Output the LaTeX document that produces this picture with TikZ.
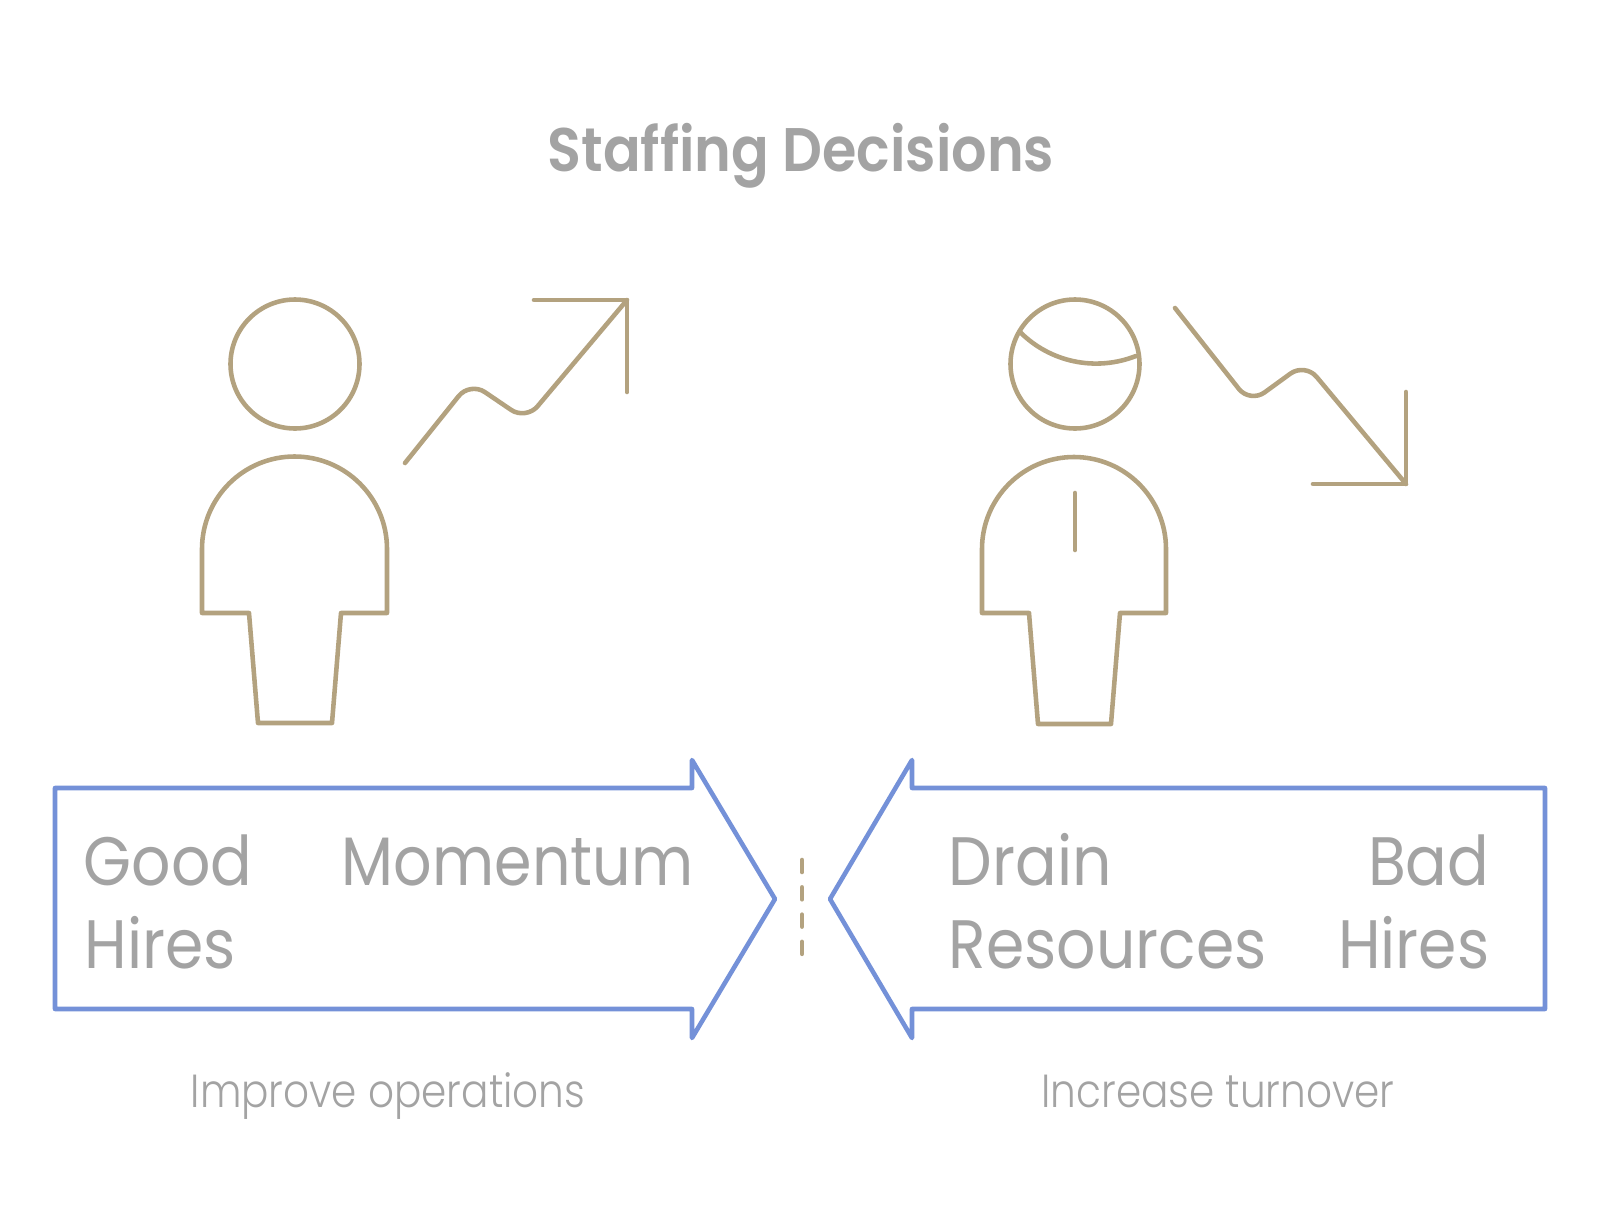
\documentclass[tikz,border=0pt]{standalone}
\usepackage{fontspec}
\setmainfont{Poppins}
\newfontfamily\bodyfont[FakeStretch=0.9]{Poppins}
\newfontfamily\momfont[FakeStretch=0.88]{Poppins}
\newfontfamily\capfont[FakeStretch=0.875]{Poppins Light}
\newfontfamily\titlefont[FakeStretch=0.905]{Poppins SemiBold}
\usetikzlibrary{calc}
\definecolor{tan1}{HTML}{B3A27F}
\definecolor{blue1}{HTML}{7491D8}
\definecolor{gray1}{HTML}{A3A3A3}
\begin{document}
\begin{tikzpicture}[x=0.1mm, y=-0.1mm,
        figure/.style={draw=tan1, line width=1.3pt, line cap=round, line join=round},
        banner/.style={draw=blue1, line width=1.3pt, line cap=round, line join=round},
        bigtext/.style={text=gray1, font=\bodyfont\fontsize{19.5}{24}\selectfont, inner sep=0pt, anchor=base west},
        smalltext/.style={text=gray1, font=\capfont\fontsize{13.2}{16}\selectfont, inner sep=0pt, anchor=base}]
        \useasboundingbox(0,0)rectangle(1600,1231);
        % title
        \node[text=gray1, font=\titlefont\fontsize{17.5}{21}\selectfont, inner sep=0pt, anchor=base](title)at(801,171){Staffing Decisions};
        % 人物1
        \coordinate(h1)at(295,364);
        \path[figure](h1)circle[radius=64.5];
        \path[figure](202,613)--(202,549)arc[start angle=180, end angle=360, radius=92.5]--(387,613)--(341,613)--(332,723)--(258,723)--(249,613)--cycle;
        % up
        \coordinate(u0)at(405,463);
        \coordinate(u1)at(470,382);
        \coordinate(u2)at(526,420);
        \coordinate(u3)at(627,300);
        \path[figure, rounded corners=1.8mm](u0)--(u1)--(u2)--(u3);
        \path[figure](534,300)--(u3)--(627,392);
        % 人物2
        \coordinate(h2)at(1075,364);
        \path[figure](h2)circle[radius=64.5];
        \path[figure](1020,332)..controls(1050,362)and(1095,372)..(1136,356);
        \path[figure](982,613)--(982,549)arc[start angle=180, end angle=360, radius=92]--(1166,613)--(1120,613)--(1111,724)--(1038,724)--(1029,613)--cycle;
        \path[figure](1075,493)--(1075,550);
        % down
        \coordinate(d0)at(1175,308);
        \coordinate(d1)at(1250,403);
        \coordinate(d2)at(1305,363);
        \coordinate(d3)at(1406,484);
        \path[figure, rounded corners=1.8mm](d0)--(d1)--(d2)--(d3);
        \path[figure](1406,392)--(d3)--(1313,484);
        % arrows
        \path[banner](55,788)--(692,788)--(692,760)--(775,899)--(692,1038)--(692,1009)--(55,1009)--cycle;
        \path[banner](1545,788)--(912,788)--(912,760)--(830,899)--(912,1038)--(912,1009)--(1545,1009)--cycle;
        % dashes
        \coordinate(s0)at(802,860);
        \coordinate(s1)at(802,955);
        \path[figure, dash pattern=on 1.2mm off 1.53mm](s0)--(s1);
        % labels
        \node[bigtext](good)at(83,885){Good};
        \node[bigtext](hires1)at(84,968){Hires};
        \node[bigtext, anchor=base east, font=\momfont\fontsize{19.5}{24}\selectfont](momentum)at(694,885){Momentum};
        \node[bigtext](drain)at(948,885){Drain};
        \node[bigtext](resources)at(948,968){Resources};
        \node[bigtext, anchor=base east](bad)at(1490,885){Bad};
        \node[bigtext, anchor=base east](hires2)at(1490,968){Hires};
        \node[smalltext](improve)at(388,1107){Improve operations};
        \node[smalltext](increase)at(1218,1107){Increase turnover};
\end{tikzpicture}
\end{document}
